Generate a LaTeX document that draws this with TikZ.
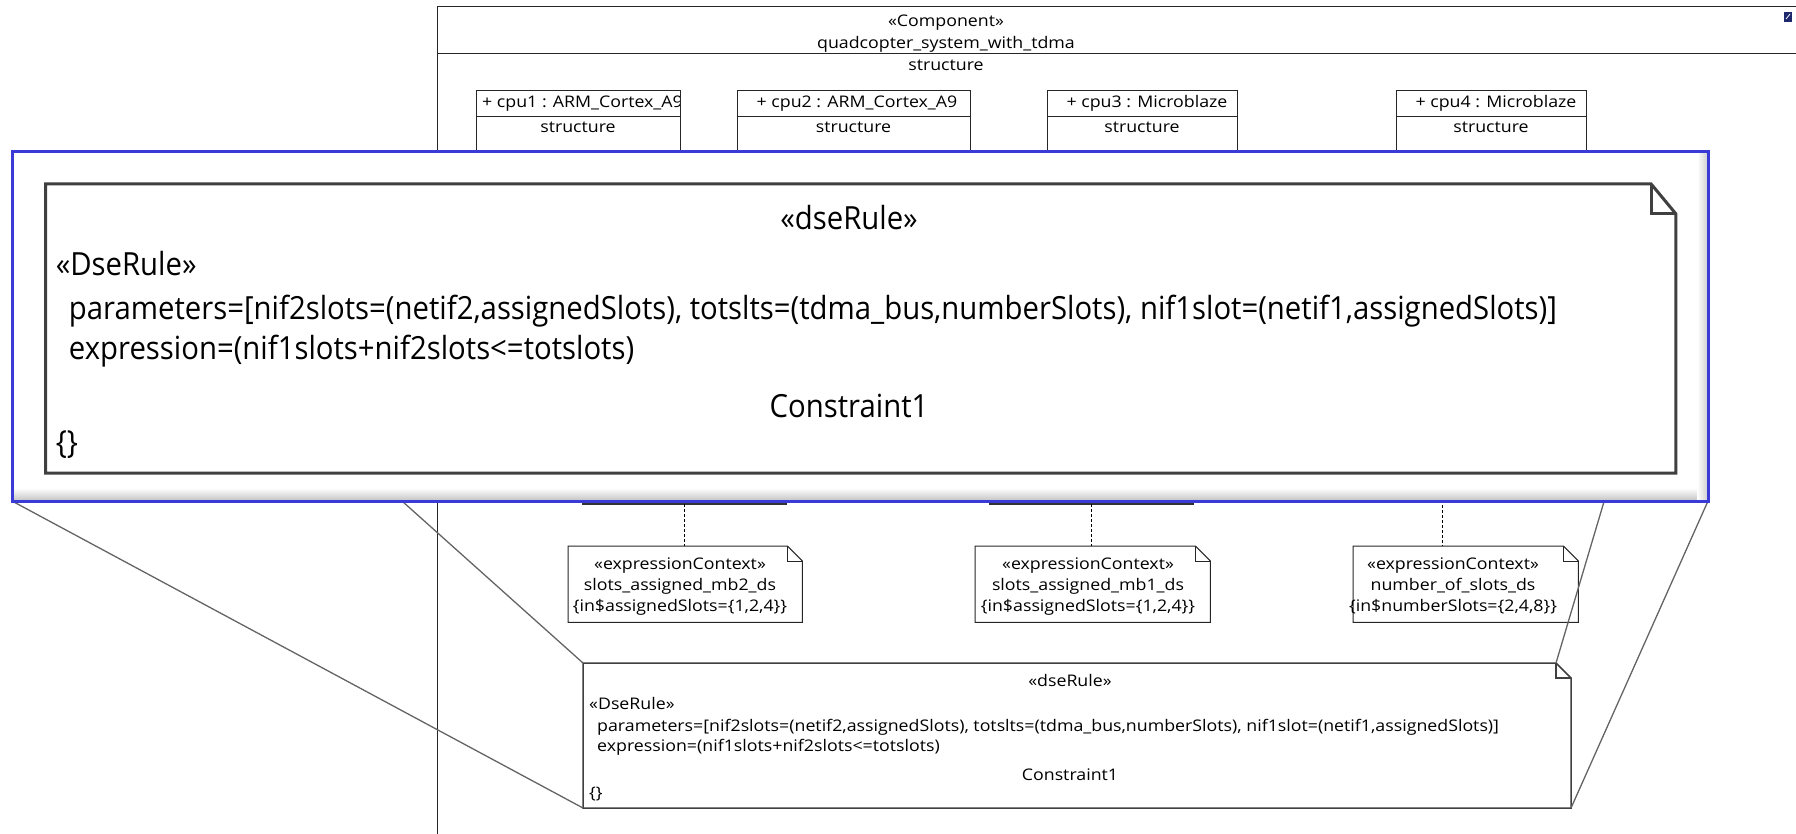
\documentclass[tikz,border=0pt]{standalone}
\usepackage{fontspec}
\setmainfont{Open Sans}
\usetikzlibrary{calc}

\definecolor{frameblue}{RGB}{58,58,214}
\definecolor{zoomline}{RGB}{100,100,100}
\definecolor{iconblue}{RGB}{30,40,110}

\tikzset{
  umlline/.style={draw=black!85, line width=1pt},
  basetxt/.style={inner sep=0pt, text height=11pt, text depth=3pt, xscale=1.11,
                  font=\fontsize{16}{19}\selectfont},
  notetxt/.style={basetxt, align=center},
  dseline/.style={draw=black!75, line width=1.5pt},
  dsetxt/.style={basetxt},
  ctxline/.style={draw=black!85, line width=1pt},
  ctxlink/.style={draw=black, line width=0.8pt, dash pattern=on 3pt off 2pt},
  zoomlink/.style={draw=zoomline, line width=1.3pt},
}

% UML note with a folded corner, drawn around an empty node
\newcommand\foldnote[3]{%
  \draw[#3] (#1.north west) -- ([xshift=-#2]#1.north east)
            -- ([yshift=-#2]#1.north east) -- (#1.south east)
            -- (#1.south west) -- cycle;
  \draw[#3] ([xshift=-#2]#1.north east) |- ([yshift=-#2]#1.north east);
}

% the dseRule note, in local units (988 x 145)
\newcommand\dsenote[1]{%
  \coordinate (#1-nw) at (0,0);
  \coordinate (#1-fold) at (973,0);
  \coordinate (#1-foldb) at (988,15);
  \coordinate (#1-se) at (988,145);
  \coordinate (#1-sw) at (0,145);
  \fill[white] (#1-nw) -- (#1-fold) -- (#1-foldb) -- (#1-se) -- (#1-sw) -- cycle;
  \draw[dseline] (#1-nw) -- (#1-fold) -- (#1-foldb) -- (#1-se) -- (#1-sw) -- cycle;
  \draw[dseline] (#1-fold) |- (#1-foldb);
  \node[dsetxt] (#1-st) at (487,19) {«dseRule»};
  \node[dsetxt, anchor=west] (#1-dr) at (6,42) {«DseRule»};
  \node[dsetxt, anchor=west] (#1-par) at (14,64)
    {parameters=[nif2slots=(netif2,assignedSlots), totslts=(tdma\_bus,numberSlots), nif1slot=(netif1,assignedSlots)]};
  \node[dsetxt, anchor=west] (#1-exp) at (14,84) {expression=(nif1slots+nif2slots<=totslots)};
  \node[dsetxt] (#1-name) at (487,113) {Constraint1};
  \node[dsetxt, anchor=west] (#1-body) at (6,131) {\{\}};
}

\begin{document}
\begin{tikzpicture}[x=1pt,y=-1pt]
\useasboundingbox (0,0) rectangle (1796,834);
\clip (0,0) rectangle (1796,834);

% ---- component frame ----
\draw[umlline] (437,7) rectangle (1800,840);
\draw[umlline] (437,54) -- (1800,54);
\node[notetxt] (stereo) at (946,23) {«Component»};
\node[notetxt] (compname) at (946,45) {quadcopter\_system\_with\_tdma};
\node[notetxt] (compcomp) at (946,67) {structure};
\fill[iconblue] (1784,12) rectangle (1792,22);
\draw[white, line width=0.8pt] (1786,19) -- (1790,14);

% ---- parts ----
\foreach \nm/\xa/\xb in {cpuA/476/680, cpuB/737/970, cpuC/1047/1237, cpuD/1396/1586}{
  \draw[umlline] (\xa,300) |- (\xb,91) -- (\xb,300);
  \draw[umlline] (\xa,117) -- (\xb,117);
  \node[notetxt] (\nm-c) at ({(\xa+\xb)/2},129) {structure};
}
\begin{scope}
  \clip (476,91) rectangle (679,117);
  \node[basetxt, anchor=west] (cpuA-t) at (482,104) {+ cpu1 : ARM\_Cortex\_A9};
\end{scope}
\node[notetxt] (cpuB-t) at (857,104) {+ cpu2 : ARM\_Cortex\_A9};
\node[notetxt] (cpuC-t) at (1147,104) {+ cpu3 : Microblaze};
\node[notetxt] (cpuD-t) at (1496,104) {+ cpu4 : Microblaze};

% ---- interface parts whose lower edges show below the zoom window ----
\draw[umlline] (582,420) rectangle (786,504);
\draw[draw=black!80, line width=2pt] (582,504) -- (786,504);
\draw[umlline] (989,420) rectangle (1193,504);
\draw[draw=black!80, line width=2pt] (989,504) -- (1193,504);
\coordinate (ifA) at (684,504);
\coordinate (ifB) at (1091,504);
\coordinate (bus) at (1442,480);

% ---- expression context notes ----
\tikzset{ctxbox/.style={inner sep=0pt, anchor=north west}}
\node[ctxbox, minimum width=234pt, minimum height=76pt] (ctxA) at (568,546) {};
\node[ctxbox, minimum width=235pt, minimum height=76pt] (ctxB) at (975,546) {};
\node[ctxbox, minimum width=225pt, minimum height=76pt] (ctxC) at (1353,546) {};
\foldnote{ctxA}{15pt}{ctxline}
\foldnote{ctxB}{15pt}{ctxline}
\foldnote{ctxC}{15pt}{ctxline}
\foreach \n/\cx/\l/\v in {ctxA/680/{slots\_assigned\_mb2\_ds}/{\{in\$assignedSlots=\{1,2,4\}\}},
                          ctxB/1088/{slots\_assigned\_mb1\_ds}/{\{in\$assignedSlots=\{1,2,4\}\}},
                          ctxC/1453/{number\_of\_slots\_ds}/{\{in\$numberSlots=\{2,4,8\}\}}}{
  \node[notetxt] (\n-s) at (\cx,565) {«expressionContext»};
  \node[notetxt] (\n-n) at (\cx,586) {\l};
  \node[notetxt] (\n-v) at (\cx,607) {\v};
}
\draw[ctxlink] (ifA) -- (ifA |- ctxA.north);
\draw[ctxlink] (ifB) -- (ifB |- ctxB.north);
\draw[ctxlink] (bus) -- (bus |- ctxC.north);

% ---- the dseRule note at its own size ----
\begin{scope}[shift={(583,663)}]
  \dsenote{small}
\end{scope}

% ---- zoom window ----
\coordinate (winTL) at (12,152);
\coordinate (winTR) at (1708,152);
\coordinate (winBL) at (12,501);
\coordinate (winBR) at (1708,501);
\draw[zoomlink] (winTL) -- (small-nw);
\draw[zoomlink] (winBL) -- (small-sw);
\draw[zoomlink] (winTR) -- (small-fold);
\draw[zoomlink] (winBR) -- (small-se);

\fill[white] (winTL) rectangle (winBR);
\shade[top color=white, bottom color=black!22] (13,488) rectangle (1707,500);
\shade[left color=white, right color=black!18] (1697,153) rectangle (1707,500);
\begin{scope}[shift={(45.5,184)}, xscale=1.65, yscale=1.993, transform shape,
              dseline/.style={draw=black!75, line width=3pt}]
  \dsenote{big}
\end{scope}
\draw[draw=frameblue, line width=3pt] (winTL) rectangle (winBR);
\end{tikzpicture}
\end{document}
